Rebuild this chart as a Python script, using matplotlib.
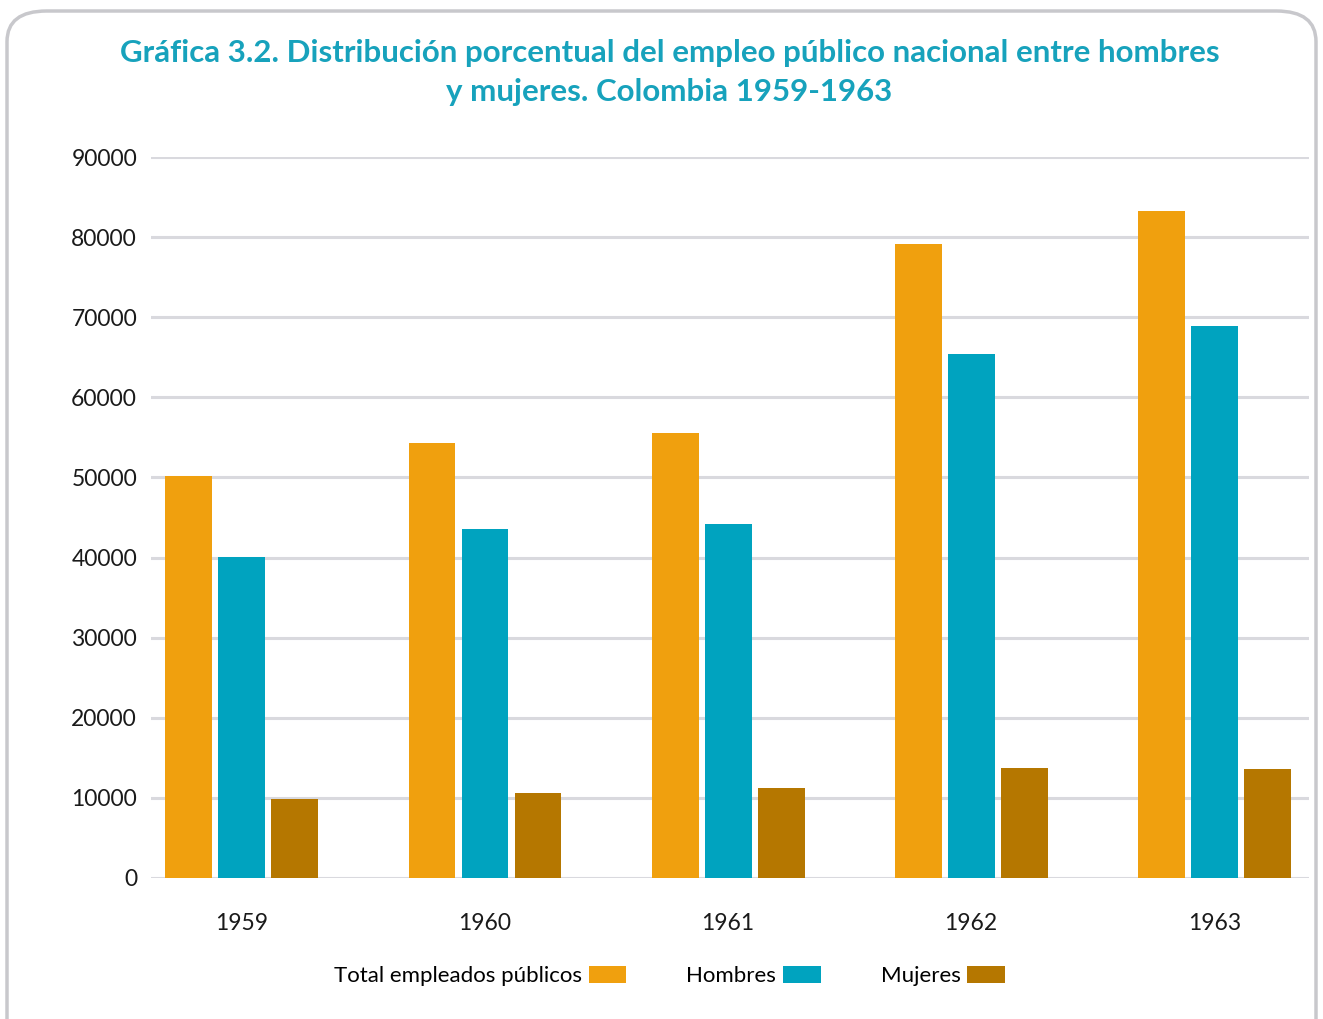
import matplotlib.pyplot as plt
from matplotlib.patches import FancyBboxPatch, Patch
import numpy as np

years = ['1959', '1960', '1961', '1962', '1963']
total = [50200, 54300, 55600, 79200, 83300]
hombres = [40100, 43600, 44200, 65400, 68900]
mujeres = [9800, 10600, 11200, 13700, 13600]

series_names = ['Total empleados públicos', 'Hombres', 'Mujeres']
colors = ['#F0A00E', '#00A3BF', '#B57700']

plt.rcParams['font.family'] = ['Lato', 'DejaVu Sans']

fig = plt.figure(figsize=(13.23, 10.19), dpi=100)

# rounded frame around the whole figure
frame = FancyBboxPatch((7 / 1323, -0.05), (1316 - 7) / 1323, 1 - 11 / 1019 + 0.05,
                       boxstyle='round,pad=0,rounding_size=0.03',
                       transform=fig.transFigure, facecolor='none',
                       edgecolor='#c8c8cc', linewidth=2.5, zorder=-1)
fig.patches.append(frame)

ax = fig.add_axes([151 / 1323, 1 - 878 / 1019, (1309 - 151) / 1323, (878 - 157) / 1019])
ax.set_facecolor('none')

x = np.arange(len(years))
w = 0.193
off = 0.218
for i, (vals, c) in enumerate(zip([total, hombres, mujeres], colors)):
    ax.bar(x + (i - 1) * off, vals, width=w, color=c, zorder=3)

ax.set_ylim(0, 90000)
ax.set_xlim(-0.374, 4.39)
ax.set_yticks(range(0, 90001, 10000))
ax.yaxis.grid(True, color='#d9d9de', linewidth=2.2, zorder=0)
ax.set_xticks(x)
ax.set_xticklabels(years)
ax.tick_params(axis='both', length=0, labelsize=16.5, colors='#1a1a1a')
ax.tick_params(axis='y', pad=10)
ax.tick_params(axis='x', pad=25)
for s in ax.spines.values():
    s.set_visible(False)

fig.text(0.506, 0.929, 'Gráfica 3.2. Distribución porcentual del empleo público nacional entre hombres\n'
         'y mujeres. Colombia 1959-1963', ha='center', va='center', fontsize=22.5,
         fontweight='bold', color='#17A2BC', linespacing=1.48)

handles = [Patch(facecolor=c) for c in colors]
fig.legend(handles, series_names, loc='center', bbox_to_anchor=(0.506, 0.042), ncol=3,
           frameon=False, markerfirst=False, fontsize=16, handlelength=1.7,
           handleheight=0.75, columnspacing=2.7, handletextpad=0.3)

fig.savefig('out.png', dpi=100)
